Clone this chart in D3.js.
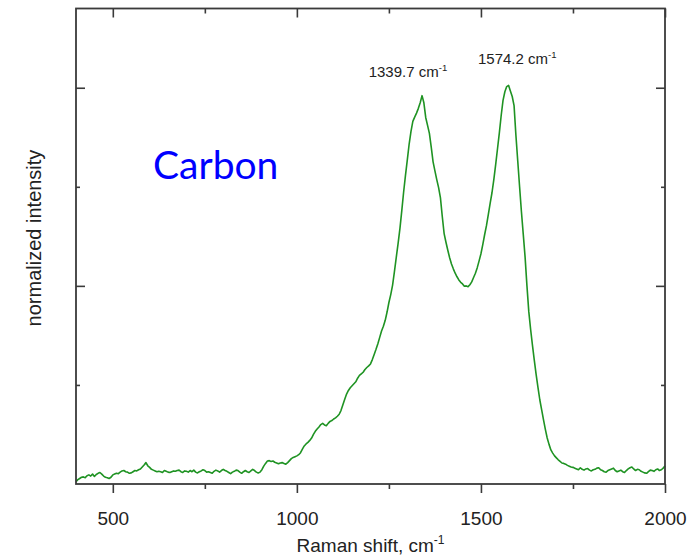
<!DOCTYPE html>
<html>
<head>
<meta charset="utf-8">
<script src="https://cdn.jsdelivr.net/npm/d3@7"></script>
<style>
  html, body { margin: 0; padding: 0; background: #fff; }
  svg { display: block; }
</style>
</head>
<body>
<svg id="chart" width="690" height="556"></svg>
<script>
// Raman spectrum of carbon: normalized intensity vs Raman shift (cm-1), sampled every 5 cm-1
const ramanShift = d3.range(400, 2001, 5);
const intensity = [
  // 400 - 700
  0.006, 0.011, 0.014, 0.017, 0.018, 0.016, 0.021, 0.023, 0.020, 0.025,
  0.019, 0.024, 0.027, 0.029, 0.025, 0.020, 0.017, 0.016, 0.014, 0.017,
  0.023, 0.025, 0.027, 0.026, 0.030, 0.033, 0.034, 0.031, 0.030, 0.027,
  0.028, 0.031, 0.034, 0.033, 0.036, 0.038, 0.043, 0.048, 0.054, 0.046,
  0.042, 0.037, 0.035, 0.033, 0.031, 0.032, 0.031, 0.029, 0.034, 0.032,
  0.030, 0.029, 0.031, 0.033, 0.032, 0.034, 0.035, 0.031, 0.029, 0.033,
  0.032,
  // 705 - 900
  0.030, 0.034, 0.031, 0.035, 0.030, 0.028, 0.031, 0.033, 0.036, 0.034,
  0.030, 0.031, 0.029, 0.027, 0.032, 0.035, 0.033, 0.030, 0.034, 0.037,
  0.034, 0.032, 0.029, 0.026, 0.030, 0.032, 0.035, 0.034, 0.030, 0.027,
  0.031, 0.034, 0.031, 0.029, 0.033, 0.037, 0.034, 0.030, 0.028, 0.030,
  // 905 - 1000
  0.036, 0.045, 0.052, 0.058, 0.059, 0.057, 0.058, 0.055, 0.053, 0.051,
  0.053, 0.054, 0.052, 0.050, 0.054, 0.059, 0.064, 0.067, 0.069, 0.071,
  // 1005 - 1100
  0.074, 0.079, 0.088, 0.096, 0.101, 0.105, 0.110, 0.116, 0.125, 0.133,
  0.139, 0.144, 0.150, 0.153, 0.149, 0.147, 0.153, 0.158, 0.160, 0.164,
  // 1105 - 1200
  0.167, 0.171, 0.176, 0.186, 0.200, 0.214, 0.227, 0.236, 0.243, 0.248,
  0.253, 0.258, 0.267, 0.274, 0.278, 0.282, 0.289, 0.294, 0.298, 0.303,
  // 1205 - 1300
  0.314, 0.327, 0.340, 0.354, 0.370, 0.386, 0.398, 0.413, 0.434, 0.458,
  0.478, 0.502, 0.536, 0.572, 0.607, 0.645, 0.690, 0.737, 0.779, 0.818,
  // 1305 - 1400
  0.858, 0.890, 0.915, 0.926, 0.936, 0.948, 0.962, 0.980, 0.962, 0.925,
  0.905, 0.885, 0.850, 0.813, 0.790, 0.768, 0.748, 0.722, 0.675, 0.632,
  // 1405 - 1500
  0.610, 0.590, 0.571, 0.555, 0.543, 0.532, 0.523, 0.515, 0.509, 0.505,
  0.499, 0.500, 0.498, 0.503, 0.510, 0.521, 0.532, 0.546, 0.563, 0.581,
  // 1505 - 1600
  0.604, 0.629, 0.652, 0.680, 0.708, 0.735, 0.768, 0.806, 0.846, 0.886,
  0.930, 0.968, 0.990, 1.003, 1.006, 0.992, 0.978, 0.955, 0.880, 0.815,
  // 1605 - 1700
  0.750, 0.687, 0.630, 0.572, 0.500, 0.435, 0.390, 0.350, 0.312, 0.276,
  0.243, 0.212, 0.187, 0.162, 0.138, 0.116, 0.100, 0.086, 0.078, 0.071,
  // 1705 - 2000
  0.066, 0.061, 0.057, 0.053, 0.052, 0.050, 0.047, 0.045, 0.043, 0.042,
  0.040, 0.038, 0.036, 0.041, 0.037, 0.035, 0.038, 0.039, 0.035, 0.033,
  0.036, 0.037, 0.040, 0.041, 0.036, 0.034, 0.031, 0.030, 0.034, 0.036,
  0.038, 0.040, 0.034, 0.031, 0.033, 0.035, 0.031, 0.029, 0.034, 0.038,
  0.041, 0.043, 0.038, 0.034, 0.037, 0.036, 0.032, 0.030, 0.028, 0.027,
  0.031, 0.035, 0.034, 0.032, 0.036, 0.038, 0.034, 0.036, 0.040, 0.046
];
const peakShifts = [1339.7, 1574.2];
const xMajorTicks = [500, 1000, 1500, 2000];
const xMinorTicks = [750, 1250, 1750];
const yMajorTicks = [0.5, 1.0];
const yMinorTicks = [0.25, 0.75];

const svg = d3.select("#chart");
const margin = { left: 76, right: 25, top: 8.5, bottom: 72 };
const W = 690, H = 556;
const x = d3.scaleLinear().domain([400, 2000]).range([margin.left, W - margin.right]);
const y = d3.scaleLinear().domain([0, 1.2]).range([H - margin.bottom, margin.top]);

const axisColor = "#3a3a3a";
const labelFont = "'Liberation Sans', Arial, sans-serif";

// spectrum line
const n = Math.min(ramanShift.length, intensity.length);
const pts = d3.range(n).map(i => [ramanShift[i], intensity[i]]);
svg.append("path")
  .datum(pts)
  .attr("fill", "none")
  .attr("stroke", "#1f9323")
  .attr("stroke-width", 1.6)
  .attr("stroke-linejoin", "round")
  .attr("d", d3.line().x(d => x(d[0])).y(d => y(d[1])));

function styleAxis(g) {
  g.selectAll("path").remove();
  g.selectAll("line").attr("stroke", axisColor).attr("stroke-width", 1.6);
  g.selectAll("text").attr("fill", "#222").style("font-family", labelFont).style("font-size", "19px");
}

const y0 = y(0), y1 = y(1.2);
// bottom axis: outward ticks with labels
svg.append("g").attr("transform", `translate(0,${y0})`)
  .call(d3.axisBottom(x).tickValues(xMajorTicks).tickSize(9).tickPadding(19).tickFormat(d3.format("d")))
  .call(styleAxis);
svg.append("g").attr("transform", `translate(0,${y0})`)
  .call(d3.axisBottom(x).tickValues(xMinorTicks).tickSize(5).tickFormat(""))
  .call(styleAxis);
// top axis: inward ticks
svg.append("g").attr("transform", `translate(0,${y1})`)
  .call(d3.axisTop(x).tickValues(xMajorTicks).tickSize(-9).tickFormat(""))
  .call(styleAxis);
svg.append("g").attr("transform", `translate(0,${y1})`)
  .call(d3.axisTop(x).tickValues(xMinorTicks).tickSize(-5).tickFormat(""))
  .call(styleAxis);
// left & right axes: inward ticks, no labels
const xl = x(400), xr = x(2000);
svg.append("g").attr("transform", `translate(${xl},0)`)
  .call(d3.axisLeft(y).tickValues(yMajorTicks).tickSize(-9).tickFormat(""))
  .call(styleAxis);
svg.append("g").attr("transform", `translate(${xl},0)`)
  .call(d3.axisLeft(y).tickValues(yMinorTicks).tickSize(-4).tickFormat(""))
  .call(styleAxis);
svg.append("g").attr("transform", `translate(${xr},0)`)
  .call(d3.axisRight(y).tickValues(yMajorTicks).tickSize(-9).tickFormat(""))
  .call(styleAxis);
svg.append("g").attr("transform", `translate(${xr},0)`)
  .call(d3.axisRight(y).tickValues(yMinorTicks).tickSize(-4).tickFormat(""))
  .call(styleAxis);

// frame
svg.append("rect")
  .attr("x", xl).attr("y", y1).attr("width", xr - xl).attr("height", y0 - y1)
  .attr("fill", "none").attr("stroke", axisColor).attr("stroke-width", 1.8);

// axis titles
const xt = svg.append("text")
  .attr("x", (xl + xr) / 2).attr("y", 552)
  .attr("text-anchor", "middle")
  .style("font-family", labelFont).style("font-size", "19px").attr("fill", "#222");
xt.append("tspan").text("Raman shift, cm");
xt.append("tspan").attr("dy", -8).style("font-size", "12px").text("-1");

svg.append("text")
  .attr("transform", "translate(41,238) rotate(-90)")
  .attr("text-anchor", "middle")
  .style("font-family", labelFont).style("font-size", "20px").attr("fill", "#222")
  .text("normalized intensity");

// peak position labels
const peakLabelOffsets = [[-14, 77], [9, 63.5]];
peakShifts.forEach((p, i) => {
  const t = svg.append("text")
    .attr("x", x(p) + peakLabelOffsets[i][0]).attr("y", peakLabelOffsets[i][1])
    .attr("text-anchor", "middle")
    .style("font-family", labelFont).style("font-size", "15px").attr("fill", "#222");
  t.append("tspan").text(`${p.toFixed(1)} cm`);
  t.append("tspan").attr("dy", -6).style("font-size", "9.5px").text("-1");
});

// sample name
svg.append("text")
  .attr("x", 153).attr("y", 179)
  .style("font-family", "Lato, 'Open Sans', sans-serif").style("font-size", "39px")
  .attr("fill", "#0000ff")
  .text("Carbon");
</script>
</body>
</html>
